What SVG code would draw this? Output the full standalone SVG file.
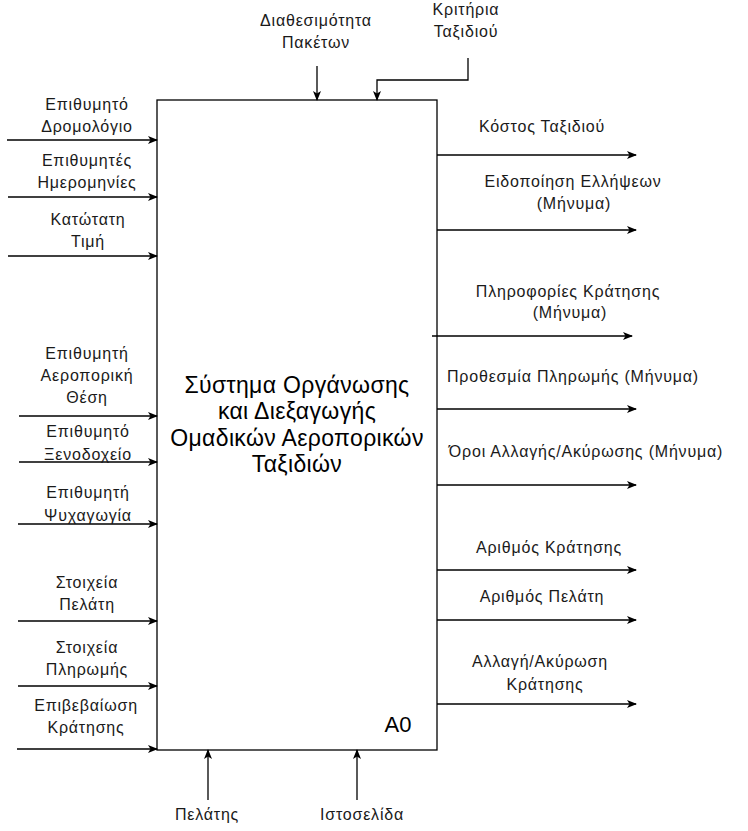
<svg xmlns="http://www.w3.org/2000/svg" width="748" height="831" viewBox="0 0 748 831">
<style>
text{font-family:"Liberation Sans",Arial,sans-serif;font-size:16px;letter-spacing:0.8px;fill:#1a1a1a;text-anchor:middle}
.big{font-size:23px;letter-spacing:0.35px;fill:#000}
.c{fill:none;stroke:#000;stroke-width:1.3}
</style>
<defs>
<marker id="a" viewBox="0 0 10 10" refX="9" refY="5" markerWidth="10" markerHeight="10" markerUnits="userSpaceOnUse" orient="auto">
<path d="M0,1 L10,5 L0,9 L2.5,5 Z" fill="#000"/>
</marker>
</defs>
<rect width="748" height="831" fill="#fff"/>
<g id="A0">
<rect x="157" y="100" width="280" height="650" fill="#fff" stroke="#000" stroke-width="1.3"/>
<text class="big" x="297" y="393">Σύστημα Οργάνωσης</text>
<text class="big" x="297" y="419">και Διεξαγωγής</text>
<text class="big" x="297" y="446">Ομαδικών Αεροπορικών</text>
<text class="big" x="297" y="472">Ταξιδιών</text>
<text class="big" x="398" y="732" style="font-size:22px;letter-spacing:0">A0</text>
</g>
<g id="connectors">
<path class="c" d="M7,140 H157" marker-end="url(#a)"/>
<path class="c" d="M8,197 H157" marker-end="url(#a)"/>
<path class="c" d="M8,256 H157" marker-end="url(#a)"/>
<path class="c" d="M19,416 H157" marker-end="url(#a)"/>
<path class="c" d="M19,462 H157" marker-end="url(#a)"/>
<path class="c" d="M18,524 H157" marker-end="url(#a)"/>
<path class="c" d="M18,621 H157" marker-end="url(#a)"/>
<path class="c" d="M18,686 H157" marker-end="url(#a)"/>
<path class="c" d="M17,749 H157" marker-end="url(#a)"/>
<path class="c" d="M317,66 V100" marker-end="url(#a)"/>
<path class="c" d="M468,58 V80 H377 V100" marker-end="url(#a)"/>
<path class="c" d="M437,155 H636" marker-end="url(#a)"/>
<path class="c" d="M437,230 H636" marker-end="url(#a)"/>
<path class="c" d="M432,336 H632" marker-end="url(#a)"/>
<path class="c" d="M437,409 H636" marker-end="url(#a)"/>
<path class="c" d="M437,485 H636" marker-end="url(#a)"/>
<path class="c" d="M437,570 H636" marker-end="url(#a)"/>
<path class="c" d="M437,620 H636" marker-end="url(#a)"/>
<path class="c" d="M437,704 H636" marker-end="url(#a)"/>
<path class="c" d="M208,800 V750" marker-end="url(#a)"/>
<path class="c" d="M357,800 V750" marker-end="url(#a)"/>
</g>
<g id="labels">
<text x="87" y="110">Επιθυμητό</text>
<text x="87" y="132">Δρομολόγιο</text>
<text x="87" y="166">Επιθυμητές</text>
<text x="87" y="188">Ημερομηνίες</text>
<text x="88" y="225">Κατώτατη</text>
<text x="88" y="247">Τιμή</text>
<text x="87" y="359">Επιθυμητή</text>
<text x="87" y="381">Αεροπορική</text>
<text x="87" y="403">Θέση</text>
<text x="88" y="437">Επιθυμητό</text>
<text x="88" y="460">Ξενοδοχείο</text>
<text x="88" y="498">Επιθυμητή</text>
<text x="88" y="521">Ψυχαγωγία</text>
<text x="87" y="588">Στοιχεία</text>
<text x="87" y="610">Πελάτη</text>
<text x="87" y="653">Στοιχεία</text>
<text x="87" y="675">Πληρωμής</text>
<text x="86" y="711">Επιβεβαίωση</text>
<text x="86" y="733">Κράτησης</text>
<text x="316" y="26">Διαθεσιμότητα</text>
<text x="316" y="48">Πακέτων</text>
<text x="466" y="15">Κριτήρια</text>
<text x="466" y="37">Ταξιδιού</text>
<text x="542" y="132">Κόστος Ταξιδιού</text>
<text x="573" y="187">Ειδοποίηση Ελλήψεων</text>
<text x="574" y="209">(Μήνυμα)</text>
<text x="568" y="297">Πληροφορίες Κράτησης</text>
<text x="570" y="318">(Μήνυμα)</text>
<text x="573" y="382">Προθεσμία Πληρωμής (Μήνυμα)</text>
<text x="586" y="457">Όροι Αλλαγής/Ακύρωσης (Μήνυμα)</text>
<text x="549" y="553">Αριθμός Κράτησης</text>
<text x="542" y="602">Αριθμός Πελάτη</text>
<text x="540" y="667">Αλλαγή/Ακύρωση</text>
<text x="545" y="690">Κράτησης</text>
<text x="207" y="820">Πελάτης</text>
<text x="362" y="820">Ιστοσελίδα</text>
</g>
</svg>
